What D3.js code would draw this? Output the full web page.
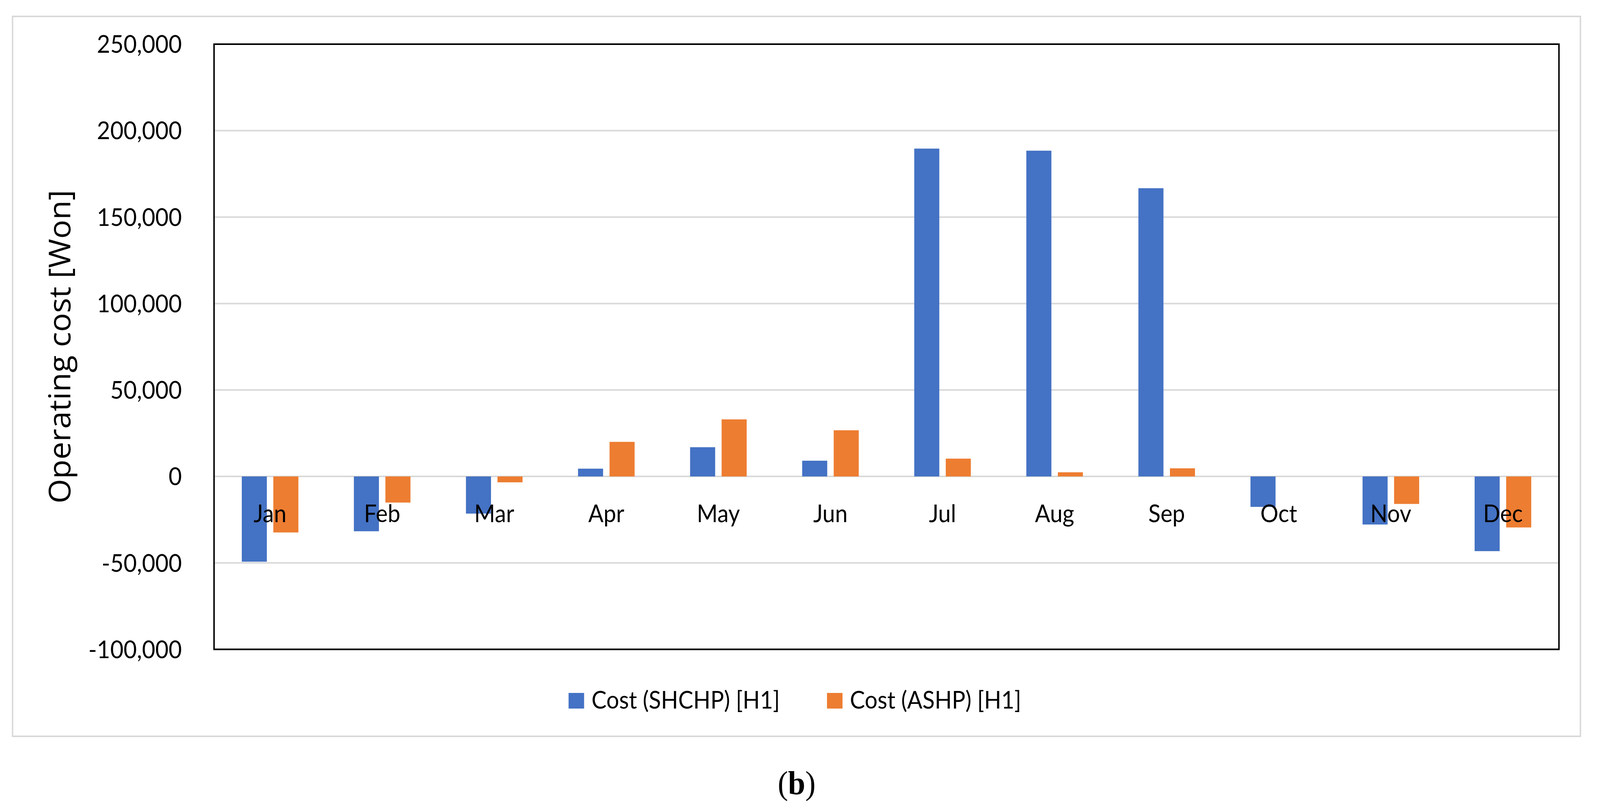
<!DOCTYPE html>
<html>
<head>
<meta charset="utf-8">
<script src="https://cdn.jsdelivr.net/npm/d3@7"></script>
<style>
  html, body { margin: 0; padding: 0; background: #fff; overflow: hidden; }
  svg { display: block; width: 100vw; height: 100vh; }
</style>
</head>
<body>
<div id="chart"></div>
<script>
// monthly operating cost
const months = ["Jan", "Feb", "Mar", "Apr", "May", "Jun", "Jul", "Aug", "Sep", "Oct", "Nov", "Dec"];
const costSHCHP = [-49300, -31700, -21500, 4500, 16900, 9100, 189600, 188400, 166700, -17600, -27800, -43200];
const costASHP = [-32400, -15100, -3400, 20000, 33000, 26700, 10300, 2400, 4700, 0, -15900, -29500];
const seriesNames = ["Cost (SHCHP) [H1]", "Cost (ASHP) [H1]"];
const yTicks = [-100000, -50000, 0, 50000, 100000, 150000, 200000, 250000];

document.addEventListener('DOMContentLoaded', function () {
    const W = 4328, H = 2070;
    const plot = { left: 579, right: 4217, top: 113, bottom: 1661.5 };
    const colors = ["#4472C4", "#ED7D31"];
    const tickFont = "Lato, Carlito, Calibri, sans-serif";

    // drawn in a fixed 4328x2070 coordinate space, fitted to the window
    const svg = d3.select('#chart').append('svg')
        .attr('viewBox', `0 0 ${W} ${H}`)
        .attr('preserveAspectRatio', 'none');

    svg.append('rect').attr('width', W).attr('height', H).attr('fill', '#fff');

    // outer chart border
    svg.append('rect')
        .attr('x', 34).attr('y', 42)
        .attr('width', 4275 - 34).attr('height', 1884 - 42)
        .attr('fill', 'none')
        .attr('stroke', '#d9d9d9')
        .attr('stroke-width', 4);

    const x = d3.scaleBand()
        .domain(months)
        .range([plot.left, plot.right])
        .paddingInner(0.495)
        .paddingOuter(0.2475);

    const xSeries = d3.scaleBand()
        .domain([0, 1])
        .range([0, x.bandwidth()])
        .paddingInner(0.205);

    const y = d3.scaleLinear()
        .domain([-100000, 250000])
        .range([plot.bottom, plot.top]);

    const fmt = d3.formatLocale({ decimal: ".", thousands: ",", grouping: [3], currency: ["", ""], minus: "-" }).format(",");

    // gridlines
    svg.append('g')
        .selectAll('line')
        .data(yTicks)
        .enter().append('line')
        .attr('x1', plot.left).attr('x2', plot.right)
        .attr('y1', d => y(d)).attr('y2', d => y(d))
        .attr('stroke', '#d9d9d9')
        .attr('stroke-width', 4);

    // bars
    const rows = months.map((m, i) => ({ month: m, values: [costSHCHP[i], costASHP[i]] }));
    const groups = svg.append('g')
        .selectAll('g')
        .data(rows)
        .enter().append('g')
        .attr('transform', d => `translate(${x(d.month)},0)`);

    groups.selectAll('rect')
        .data(d => d.values.map((v, s) => ({ v: v, s: s })))
        .enter().append('rect')
        .attr('x', d => xSeries(d.s))
        .attr('width', xSeries.bandwidth())
        .attr('y', d => y(Math.max(0, d.v)))
        .attr('height', d => Math.abs(y(d.v) - y(0)))
        .attr('fill', d => colors[d.s]);

    // plot frame
    svg.append('rect')
        .attr('x', plot.left).attr('y', plot.top)
        .attr('width', plot.right - plot.left)
        .attr('height', plot.bottom - plot.top)
        .attr('fill', 'none')
        .attr('stroke', '#000')
        .attr('stroke-width', 4);

    // y axis labels
    const yAxis = d3.axisLeft(y).tickValues(yTicks).tickFormat(fmt).tickSize(0).tickPadding(0);
    const gy = svg.append('g')
        .attr('transform', `translate(492,0)`)
        .call(yAxis);
    gy.select('.domain').remove();
    gy.selectAll('text')
        .attr('font-family', tickFont)
        .attr('font-size', 62)
        .attr('fill', '#000')
        .attr('dy', '0.35em');

    // month labels, sitting just under the zero line like Excel does
    svg.append('g')
        .selectAll('text')
        .data(months)
        .enter().append('text')
        .attr('x', d => x(d) + x.bandwidth() / 2)
        .attr('y', 1336)
        .attr('text-anchor', 'middle')
        .attr('font-family', tickFont)
        .attr('font-size', 61)
        .attr('fill', '#000')
        .text(d => d);

    // axis title
    svg.append('text')
        .attr('transform', `translate(190,${(plot.top + plot.bottom) / 2}) rotate(-90)`)
        .attr('text-anchor', 'middle')
        .attr('font-family', '"Open Sans", "Segoe UI", sans-serif')
        .attr('font-size', 81)
        .attr('fill', '#000')
        .text('Operating cost [Won]');

    // legend
    const legendX = [1538, 2237];
    const legend = svg.append('g')
        .selectAll('g')
        .data(seriesNames)
        .enter().append('g')
        .attr('transform', (d, i) => `translate(${legendX[i]},1773)`);
    legend.append('rect')
        .attr('width', 42).attr('height', 40)
        .attr('fill', (d, i) => colors[i]);
    legend.append('text')
        .attr('x', 62).attr('y', 40)
        .attr('font-family', tickFont)
        .attr('font-size', 61)
        .attr('fill', '#000')
        .text(d => d);

    // panel caption
    const cap = svg.append('text')
        .attr('x', 2155).attr('y', 2032)
        .attr('text-anchor', 'middle')
        .attr('font-family', '"Liberation Serif", "Times New Roman", serif')
        .attr('font-size', 84)
        .attr('fill', '#000');
    cap.append('tspan').text('(');
    cap.append('tspan').attr('font-weight', 'bold').text('b');
    cap.append('tspan').text(')');
});
</script>
</body>
</html>
